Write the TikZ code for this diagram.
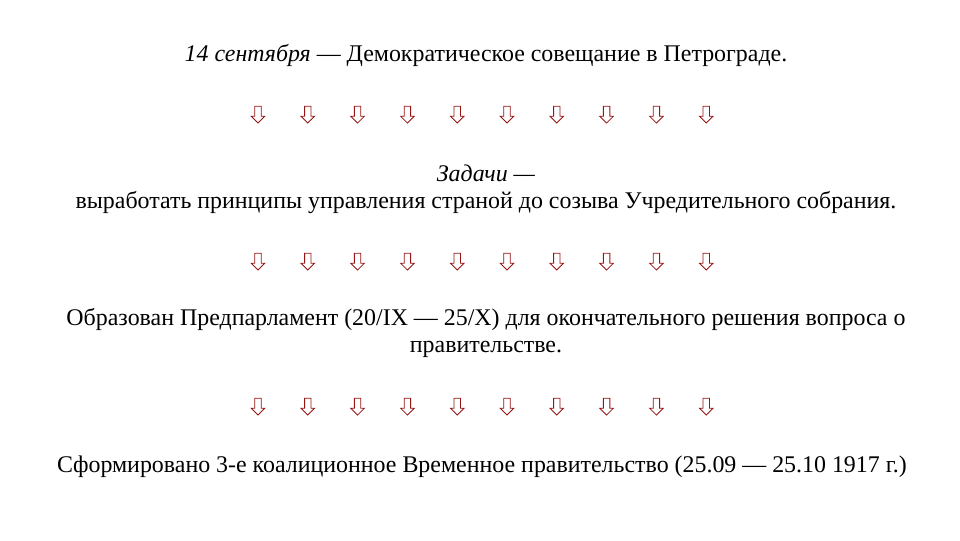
\documentclass[tikz,border=0pt]{standalone}
\usepackage{fontspec}
\setmainfont{Liberation Serif}
\usetikzlibrary{shapes.arrows}
\definecolor{arrred}{RGB}{150,20,20}
\tikzset{
  txt/.style={align=center, inner sep=0pt, font=\fontsize{17}{19.2}\selectfont},
  darr/.style={single arrow, draw=arrred, fill=white, line width=0.6pt,
    shape border rotate=270, inner sep=0.07cm, minimum height=0.42cm,
    single arrow head extend=0.09cm}
}
\begin{document}
\begin{tikzpicture}[x=0.025cm, y=-0.025cm]
  \useasboundingbox (0,0) rectangle (960,540);

  \node[txt] at (486, 55)  (t1) {\textit{14 сентября} — Демократическое совещание в Петрограде.};
  \node[txt] at (486,189)  (t2) {\textit{Задачи —}\\выработать принципы управления страной до созыва Учредительного  собрания.};
  \node[txt] at (486,333)  (t3) {Образован Предпарламент (20/IX — 25/X) для окончательного решения вопроса о\\правительстве.};
  \node[txt] at (482,467)  (t4) {Сформировано 3-е коалиционное Временное правительство (25.09 — 25.10 1917 г.)};

  % ряды стрелок
  \foreach \r/\y in {1/113, 2/260, 3/405}
    \foreach \i in {0,...,9}
      \node[darr] at ({258+49.8*\i},\y) (a\r-\i) {};

\end{tikzpicture}
\end{document}
